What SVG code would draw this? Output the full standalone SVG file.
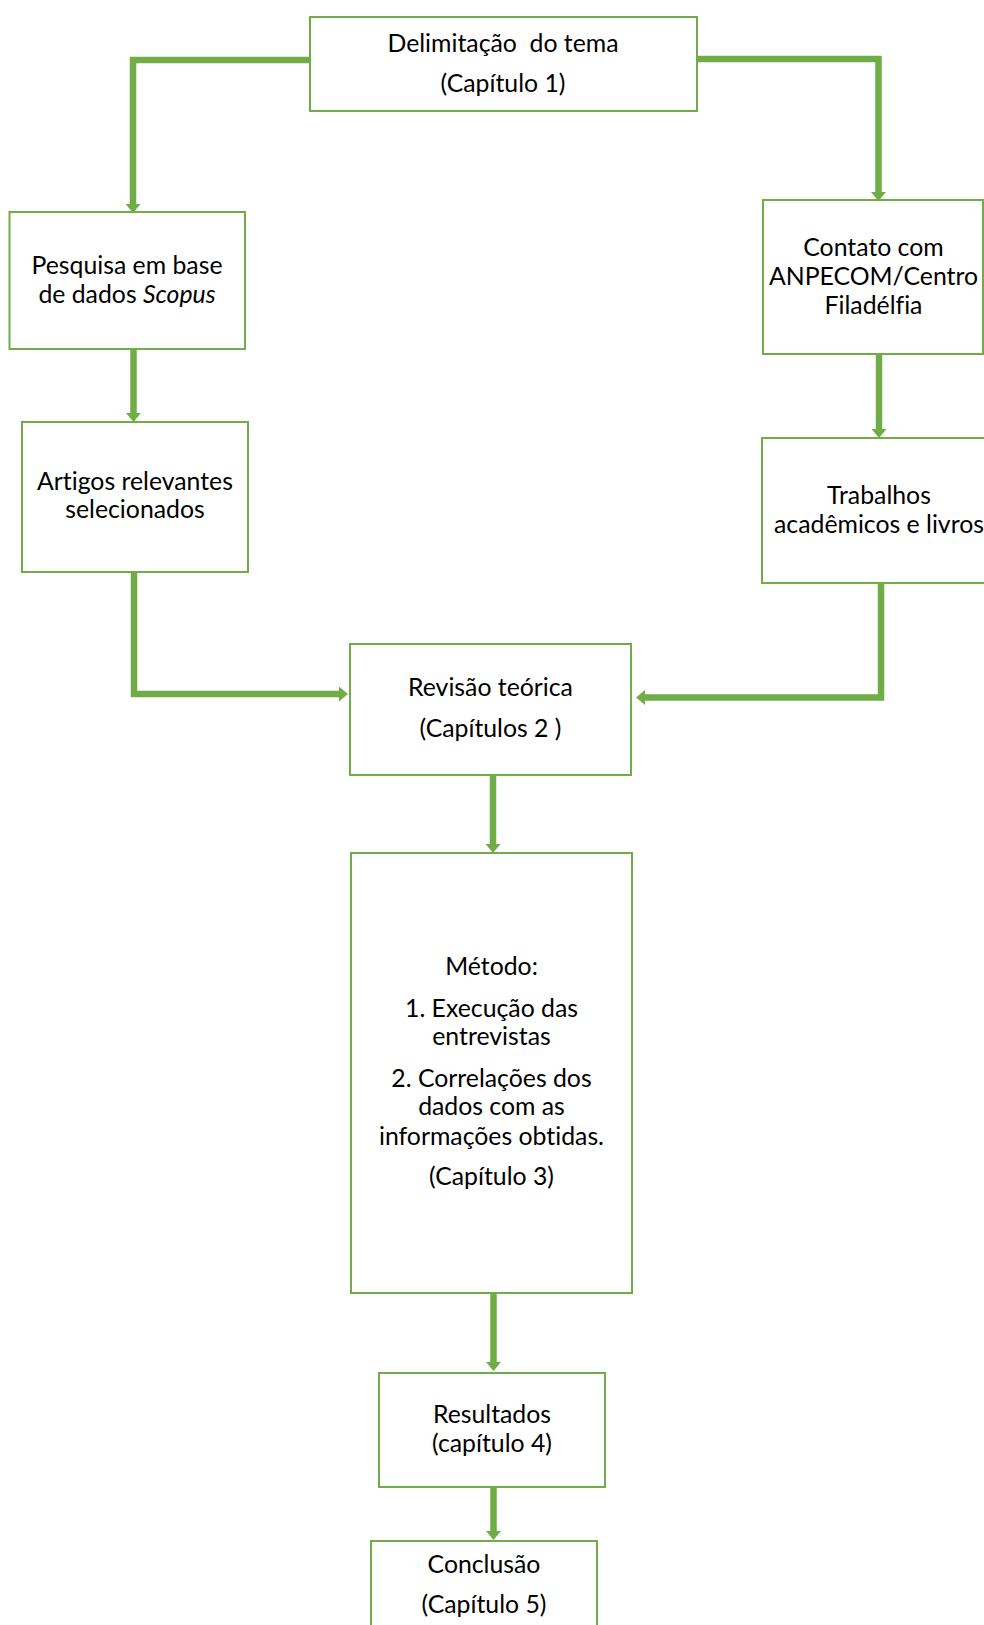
<svg xmlns="http://www.w3.org/2000/svg" width="984" height="1625" viewBox="0 0 984 1625">
<style>
.box{fill:#fff;stroke:#70AD47;stroke-width:2}
.t{font-family:Lato,"Open Sans","Liberation Sans",sans-serif;font-size:24.8px;fill:#000;text-anchor:middle;font-variant-ligatures:none}
.c{fill:none;stroke:#70AD47;stroke-width:6.5;stroke-linejoin:miter;marker-end:url(#ah)}
</style>
<defs>
<marker id="ah" markerUnits="userSpaceOnUse" markerWidth="9" markerHeight="15" refX="0" refY="7.5" orient="auto" viewBox="0 0 9 15">
<path d="M0,0 L9,7.5 L0,15 z" fill="#70AD47"/>
</marker>
</defs>
<rect width="984" height="1625" fill="#fff"/>
<g id="connectors">
<path class="c" d="M313,60 H133 V204"/>
<path class="c" d="M697,59 H878.5 V192"/>
<path class="c" d="M133.5,349 V413"/>
<path class="c" d="M879,354 V429"/>
<path class="c" d="M134,572 V694 H339"/>
<path class="c" d="M881,583 V697.5 H645"/>
<path class="c" d="M493,775 V844"/>
<path class="c" d="M493.5,1290 V1362"/>
<path class="c" d="M493.5,1487 V1531"/>
</g>
<g id="delimitacao">
<rect class="box" x="310" y="17" width="387" height="94"/>
<text class="t" x="503" y="52" xml:space="preserve">Delimitação  do tema</text>
<text class="t" x="503" y="92">(Capítulo 1)</text>
</g>
<g id="pesquisa">
<rect class="box" x="9.5" y="212" width="235.5" height="137"/>
<text class="t" x="127" y="274">Pesquisa em base</text>
<text class="t" x="127" y="303">de dados <tspan font-style="italic">Scopus</tspan></text>
</g>
<g id="contato">
<rect class="box" x="763" y="200" width="220" height="154"/>
<text class="t" x="873.5" y="256">Contato com</text>
<text class="t" x="873.5" y="285">ANPECOM/Centro</text>
<text class="t" x="873.5" y="314">Filadélfia</text>
</g>
<g id="artigos">
<rect class="box" x="22" y="422" width="226" height="150"/>
<text class="t" x="135" y="490">Artigos relevantes</text>
<text class="t" x="135" y="518">selecionados</text>
</g>
<g id="trabalhos">
<rect class="box" x="762" y="438" width="234" height="145"/>
<text class="t" x="879" y="504">Trabalhos</text>
<text class="t" x="879" y="533">acadêmicos e livros</text>
</g>
<g id="revisao">
<rect class="box" x="350" y="644" width="281" height="131"/>
<text class="t" x="490.5" y="696">Revisão teórica</text>
<text class="t" x="490.5" y="737">(Capítulos 2 )</text>
</g>
<g id="metodo">
<rect class="box" x="351" y="853" width="281" height="440"/>
<text class="t" x="491.5" y="975">Método:</text>
<text class="t" x="491.5" y="1017">1. Execução das</text>
<text class="t" x="491.5" y="1045">entrevistas</text>
<text class="t" x="491.5" y="1087">2. Correlações dos</text>
<text class="t" x="491.5" y="1115">dados com as</text>
<text class="t" x="491.5" y="1145">informações obtidas.</text>
<text class="t" x="491.5" y="1185">(Capítulo 3)</text>
</g>
<g id="resultados">
<rect class="box" x="379" y="1373" width="226" height="114"/>
<text class="t" x="492" y="1423">Resultados</text>
<text class="t" x="492" y="1452">(capítulo 4)</text>
</g>
<g id="conclusao">
<rect class="box" x="371" y="1541" width="226" height="100"/>
<text class="t" x="484" y="1573">Conclusão</text>
<text class="t" x="484" y="1613">(Capítulo 5)</text>
</g>
</svg>
